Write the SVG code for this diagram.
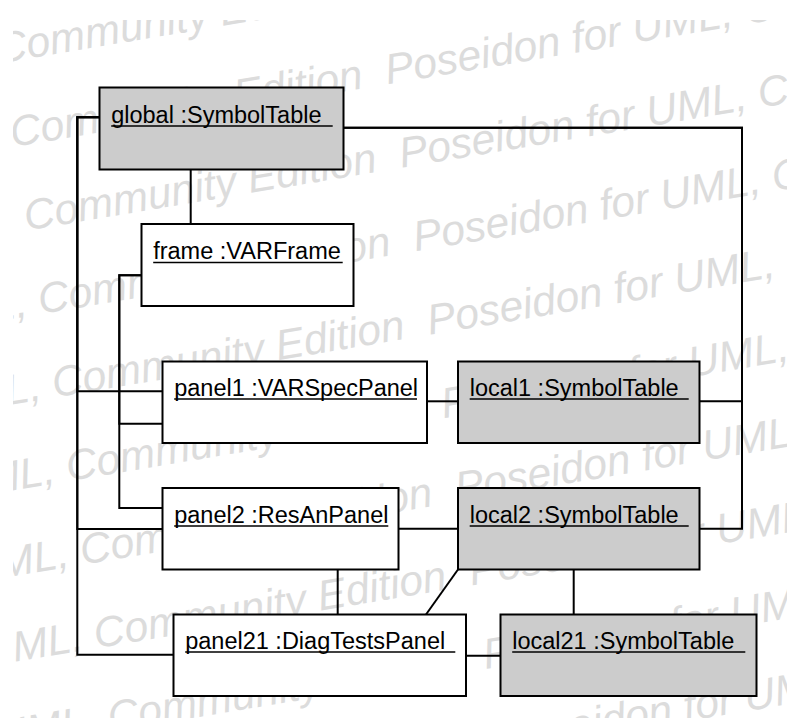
<svg xmlns="http://www.w3.org/2000/svg" width="787" height="728" viewBox="0 0 787 728">
<style>
.wm{font-family:"Liberation Sans",Arial,sans-serif;font-style:italic;font-size:42.5px;fill:#dcdcdc}
.box{stroke:#000;stroke-width:2}
.obj{fill:#fff}
.tbl{fill:#cccccc}
.lbl{font-family:"Liberation Sans",Arial,sans-serif;font-size:23.5px;fill:#000}
.ul{stroke:#000;stroke-width:1.6}
.conn{fill:none;stroke:#000;stroke-width:2}
</style>
<defs>
<clipPath id="wmclip"><rect x="13" y="20" width="774" height="698"/></clipPath>
</defs>
<rect width="787" height="728" fill="#fff"/>
<g id="watermark" clip-path="url(#wmclip)">
<g transform="rotate(-9.5)">
<text class="wm" x="-756" y="62.3">Community Edition&#160; Poseidon for UML, Community Edition&#160; Poseidon for UML, Community Edition&#160; Poseidon for UML,</text>
<text class="wm" x="-756" y="147">Community Edition&#160; Poseidon for UML, Community Edition&#160; Poseidon for UML, Community Edition&#160; Poseidon for UML,</text>
<text class="wm" x="-756" y="231.7">Community Edition&#160; Poseidon for UML, Community Edition&#160; Poseidon for UML, Community Edition&#160; Poseidon for UML,</text>
<text class="wm" x="-756" y="316.4">Community Edition&#160; Poseidon for UML, Community Edition&#160; Poseidon for UML, Community Edition&#160; Poseidon for UML,</text>
<text class="wm" x="-756" y="401.1">Community Edition&#160; Poseidon for UML, Community Edition&#160; Poseidon for UML, Community Edition&#160; Poseidon for UML,</text>
<text class="wm" x="-756" y="485.8">Community Edition&#160; Poseidon for UML, Community Edition&#160; Poseidon for UML, Community Edition&#160; Poseidon for UML,</text>
<text class="wm" x="-756" y="570.5">Community Edition&#160; Poseidon for UML, Community Edition&#160; Poseidon for UML, Community Edition&#160; Poseidon for UML,</text>
<text class="wm" x="-756" y="655.2">Community Edition&#160; Poseidon for UML, Community Edition&#160; Poseidon for UML, Community Edition&#160; Poseidon for UML,</text>
<text class="wm" x="-756" y="739.9">Community Edition&#160; Poseidon for UML, Community Edition&#160; Poseidon for UML, Community Edition&#160; Poseidon for UML,</text>
<text class="wm" x="-756" y="824.6">Community Edition&#160; Poseidon for UML, Community Edition&#160; Poseidon for UML, Community Edition&#160; Poseidon for UML,</text>
</g>
</g>
<g id="connectors">
<path class="conn" d="M99.5 117.3 H77.3 V391.3 H162.5"/>
<path class="conn" d="M99.5 117.3 H77.3 V529 H162.5"/>
<path class="conn" d="M99.5 117.3 H77.3 V654.7 H173.5"/>
<path class="conn" d="M141.5 275.3 H119.3 V423.7 H162.5"/>
<path class="conn" d="M141.5 275.3 H119.3 V508 H162.5"/>
<path class="conn" d="M190.7 169.5 V224"/>
<path class="conn" d="M343.5 127.7 H742 V401.3 H699.5"/>
<path class="conn" d="M343.5 127.7 H742 V528.7 H699.5"/>
<path class="conn" d="M427 401.3 H458"/>
<path class="conn" d="M398.5 528.7 H458"/>
<path class="conn" d="M337.7 569.5 V614.5"/>
<path class="conn" d="M458 569.5 L426 614.5"/>
<path class="conn" d="M573.7 569.5 V614.5"/>
<path class="conn" d="M466 655.7 H500.5"/>
</g>
<g id="global">
<rect class="box tbl" x="99.5" y="87.5" width="244" height="82"/>
<text class="lbl" x="111.2" y="122.5">global :SymbolTable</text>
<line class="ul" x1="111.2" y1="126" x2="332.7" y2="126"/>
</g>
<g id="frame">
<rect class="box obj" x="141.5" y="224" width="212" height="82"/>
<text class="lbl" x="153.2" y="259">frame :VARFrame</text>
<line class="ul" x1="153.2" y1="262.5" x2="342.7" y2="262.5"/>
</g>
<g id="panel1">
<rect class="box obj" x="162.5" y="361.5" width="264.5" height="81.5"/>
<text class="lbl" x="174.2" y="395.5">panel1 :VARSpecPanel</text>
<line class="ul" x1="174.2" y1="399" x2="417" y2="399"/>
</g>
<g id="local1">
<rect class="box tbl" x="458" y="361.5" width="241.5" height="81.5"/>
<text class="lbl" x="469.7" y="395.5">local1 :SymbolTable</text>
<line class="ul" x1="469.7" y1="399" x2="688.7" y2="399"/>
</g>
<g id="panel2">
<rect class="box obj" x="162.5" y="488" width="236" height="81.5"/>
<text class="lbl" x="174.2" y="522.5">panel2 :ResAnPanel</text>
<line class="ul" x1="174.2" y1="526" x2="388.3" y2="526"/>
</g>
<g id="local2">
<rect class="box tbl" x="458" y="488" width="241.5" height="81.5"/>
<text class="lbl" x="469.7" y="522.5">local2 :SymbolTable</text>
<line class="ul" x1="469.7" y1="526" x2="688.7" y2="526"/>
</g>
<g id="panel21">
<rect class="box obj" x="173.5" y="614.5" width="292.5" height="81.5"/>
<text class="lbl" x="185.2" y="648.5">panel21 :DiagTestsPanel</text>
<line class="ul" x1="185.2" y1="652" x2="455.3" y2="652"/>
</g>
<g id="local21">
<rect class="box tbl" x="500.5" y="614.5" width="256" height="81.5"/>
<text class="lbl" x="512.2" y="648.5">local21 :SymbolTable</text>
<line class="ul" x1="512.2" y1="652" x2="745.3" y2="652"/>
</g>
</svg>
